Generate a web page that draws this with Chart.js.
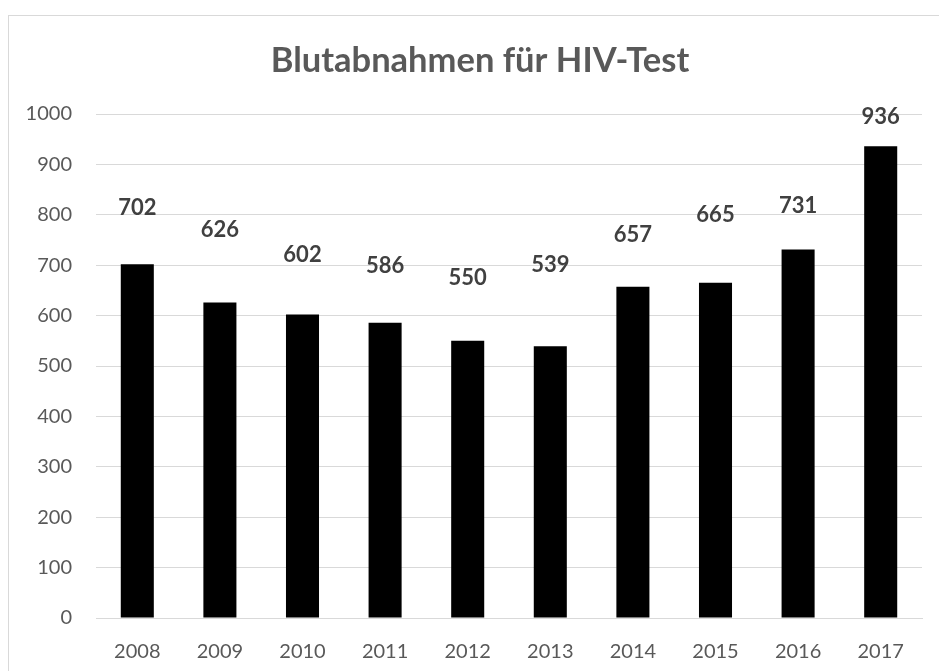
<!DOCTYPE html>
<html>
<head>
<meta charset="utf-8">
<script src="https://cdn.jsdelivr.net/npm/chart.js@4/dist/chart.umd.min.js"></script>
<style>
  body { margin: 0; background: #fff; overflow: hidden; }
  #wrap { position: relative; width: 939px; height: 671px; }
  #frame { position: absolute; left: 8px; top: 15px; width: 960px; height: 700px; border: 1px solid #d9d9d9; box-sizing: border-box; }
  canvas { position: absolute; left: 0; top: 0; }
</style>
</head>
<body>
<div id="wrap">
  <div id="frame"></div>
  <canvas id="chart" width="939" height="671"></canvas>
</div>
<script>
const title = "Blutabnahmen für HIV-Test";
const years = ["2008", "2009", "2010", "2011", "2012", "2013", "2014", "2015", "2016", "2017"];
const blutabnahmen = [702, 626, 602, 586, 550, 539, 657, 665, 731, 936];
const yTicks = [0, 100, 200, 300, 400, 500, 600, 700, 800, 900, 1000];

// how far (px) each value label sits above its bar, as in the original
const labelLift = [56, 73, 60, 57, 63, 81, 52, 68, 44, 29];

const FONT = "Lato, 'Liberation Sans', sans-serif";

// title is centred on the outer frame, not on the canvas, so draw it by hand
const chartTitle = {
  id: "chartTitle",
  afterDraw(chart) {
    const ctx = chart.ctx;
    ctx.save();
    ctx.font = "bold 34.5px " + FONT;
    ctx.fillStyle = "#595959";
    ctx.textAlign = "center";
    ctx.textBaseline = "middle";
    ctx.fillText(title, 480, 61);
    ctx.restore();
  }
};

const valueLabels = {
  id: "valueLabels",
  afterDatasetsDraw(chart) {
    const ctx = chart.ctx;
    const meta = chart.getDatasetMeta(0);
    ctx.save();
    ctx.font = "bold 22px " + FONT;
    ctx.fillStyle = "#404040";
    ctx.textAlign = "center";
    ctx.textBaseline = "middle";
    meta.data.forEach((bar, i) => {
      ctx.fillText(String(blutabnahmen[i]), bar.x, bar.y - labelLift[i]);
    });
    ctx.restore();
  }
};

new Chart(document.getElementById("chart"), {
  type: "bar",
  data: {
    labels: years,
    datasets: [{
      data: blutabnahmen,
      backgroundColor: "#000000",
      barPercentage: 0.4,
      categoryPercentage: 1.0
    }]
  },
  options: {
    responsive: false,
    animation: false,
    devicePixelRatio: 1,
    layout: { padding: { left: 0, right: 17, top: 114, bottom: 0 } },
    plugins: {
      legend: { display: false },
      tooltip: { enabled: false },
      title: { display: false }
    },
    scales: {
      x: {
        grid: { display: false, drawTicks: false },
        border: { color: "#d9d9d9", width: 1 },
        ticks: { color: "#595959", font: { family: FONT, size: 20 }, padding: 22, maxRotation: 0 },
        afterFit(scale) { scale.height = 53; }
      },
      y: {
        min: 0,
        max: 1000,
        afterBuildTicks(scale) { scale.ticks = yTicks.map(v => ({ value: v })); },
        grid: { color: "#d9d9d9", lineWidth: 1, drawTicks: false },
        border: { display: false },
        ticks: {
          color: "#595959",
          font: { family: FONT, size: 20 },
          padding: 24,
          callback: v => String(v)
        },
        afterFit(scale) { scale.width = 96; }
      }
    }
  },
  plugins: [valueLabels, chartTitle]
});
</script>
</body>
</html>
